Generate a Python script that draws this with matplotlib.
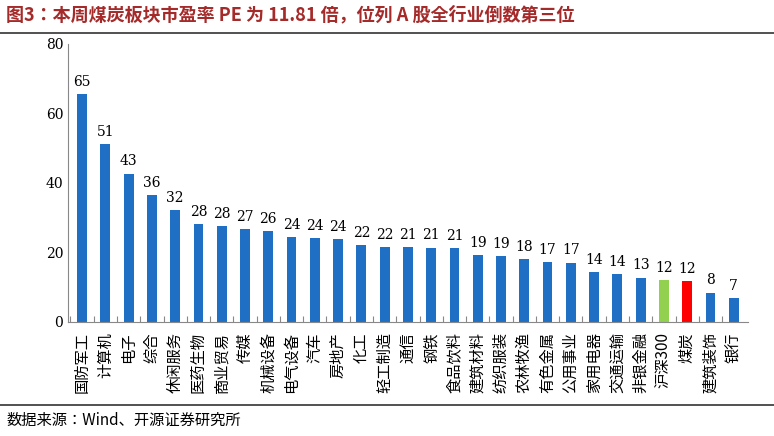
import matplotlib
matplotlib.use("Agg")
import matplotlib.pyplot as plt
from matplotlib import font_manager

CJK_NAMES = sorted({f.name for f in font_manager.fontManager.ttflist if "CJK" in f.name})
CJK = next((n for n in CJK_NAMES if n.endswith("SC")), CJK_NAMES[0] if CJK_NAMES else "DejaVu Sans")
plt.rcParams["font.family"] = [CJK, "DejaVu Sans"]

CATEGORIES = ["国防军工", "计算机", "电子", "综合", "休闲服务", "医药生物", "商业贸易", "传媒",
              "机械设备", "电气设备", "汽车", "房地产", "化工", "轻工制造", "通信", "钢铁",
              "食品饮料", "建筑材料", "纺织服装", "农林牧渔", "有色金属", "公用事业", "家用电器",
              "交通运输", "非银金融", "沪深300", "煤炭", "建筑装饰", "银行"]
PE_VALUES = [65.5, 51.0, 42.6, 36.4, 32.1, 28.1, 27.6, 26.6, 26.0, 24.4, 24.0, 23.7, 22.1,
             21.5, 21.4, 21.3, 21.2, 19.1, 18.8, 18.1, 17.1, 17.0, 14.3, 13.7, 12.7, 11.9,
             11.8, 8.4, 6.7]
PE_LABELS = ["65", "51", "43", "36", "32", "28", "28", "27", "26", "24", "24", "24", "22",
             "22", "21", "21", "21", "19", "19", "18", "17", "17", "14", "14", "13", "12",
             "12", "8", "7"]

BLUE = "#1f6fc5"
colors = [BLUE] * len(CATEGORIES)
colors[CATEGORIES.index("沪深300")] = "#92d050"
colors[CATEGORIES.index("煤炭")] = "#ff0000"

fig = plt.figure(figsize=(7.74, 4.36), dpi=100)
ax = fig.add_axes([0.088, 0.262, 0.878, 0.638])

x = range(len(CATEGORIES))
ax.bar(x, PE_VALUES, width=0.42, color=colors)
for i, (v, lab) in enumerate(zip(PE_VALUES, PE_LABELS)):
    ax.text(i, v + 1.5, lab, ha="center", va="bottom", fontsize=10, family="DejaVu Serif")

ax.set_xlim(-0.6, len(CATEGORIES) - 0.4)
ax.set_ylim(0, 80)
ax.set_yticks(range(0, 81, 20))
ax.tick_params(axis="y", labelsize=10, length=0)
for lbl in ax.get_yticklabels():
    lbl.set_family("DejaVu Serif")
ax.set_xticks([i - 0.5 for i in x])
ax.set_xticklabels([])
ax.tick_params(axis="x", length=4, direction="in", color="#888888")
for i, name in enumerate(CATEGORIES):
    ax.text(i, -3, name, rotation=90, ha="center", va="top", fontsize=11)
for s in ["top", "right"]:
    ax.spines[s].set_visible(False)
ax.spines["left"].set_color("#888888")
ax.spines["bottom"].set_color("#888888")

fig.text(0.008, 0.965, "图3：本周煤炭板块市盈率 PE 为 11.81 倍，位列 A 股全行业倒数第三位",
         fontsize=13, fontweight="bold", color="#a52a2a", va="center")
fig.add_artist(plt.Line2D([0.0, 1.0], [0.925, 0.925], color="#333333", lw=1.2))
fig.add_artist(plt.Line2D([0.0, 1.0], [0.07, 0.07], color="#333333", lw=1.2))
fig.text(0.008, 0.035, "数据来源：Wind、开源证券研究所", fontsize=11, va="center")

fig.savefig("out.png", dpi=100)
